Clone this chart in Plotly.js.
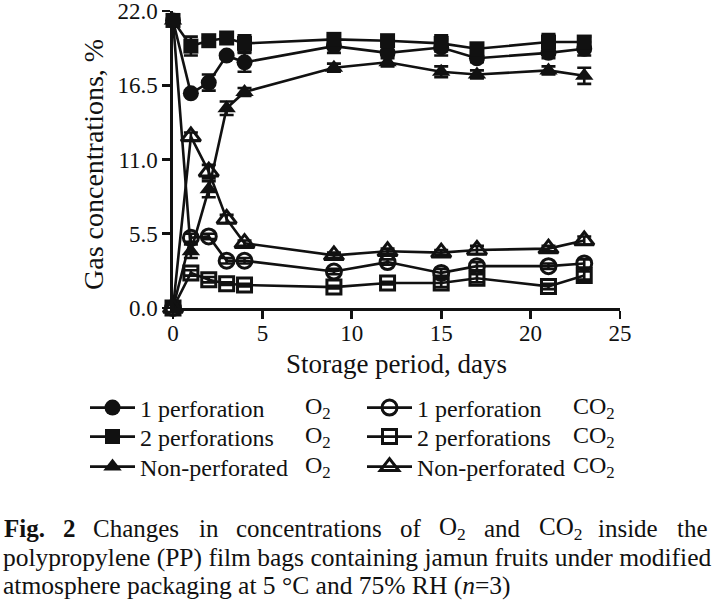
<!DOCTYPE html>
<html>
<head>
<meta charset="utf-8">
<script src="https://cdn.plot.ly/plotly-3.0.1.min.js"></script>
<style>
  html, body { margin: 0; padding: 0; background: #fff; }
  #chart { width: 714px; height: 603px; }
</style>
</head>
<body>
<div id="chart"></div>
<script>
// Storage period (days) and mean gas concentrations (%), n=3
const DAYS = [0, 1, 2, 3, 4, 9, 12, 15, 17, 21, 23];

const O2_ONE_PERF = [21.3, 15.9, 16.7, 18.7, 18.2, 19.4, 18.9, 19.3, 18.5, 18.9, 19.2];
const O2_TWO_PERF = [21.3, 19.4, 19.8, 20.0, 19.6, 19.9, 19.8, 19.6, 19.2, 19.7, 19.7];
const O2_NON_PERF = [21.3, 4.2, 8.8, 14.8, 16.0, 17.8, 18.2, 17.5, 17.3, 17.6, 17.2];
const CO2_ONE_PERF = [0.0, 5.2, 5.3, 3.5, 3.5, 2.7, 3.4, 2.6, 3.1, 3.1, 3.3];
const CO2_TWO_PERF = [0.0, 2.6, 2.1, 1.8, 1.7, 1.55, 1.85, 1.85, 2.2, 1.6, 2.4];
const CO2_NON_PERF = [0.0, 12.7, 10.1, 6.6, 4.8, 3.9, 4.2, 4.1, 4.3, 4.4, 5.0];

// ± SE
const O2_ONE_PERF_SE = [0.3, 0.2, 0.6, 0.2, 0.7, 0.5, 0.2, 0.6, 0.3, 0.4, 0.5];
const O2_TWO_PERF_SE = [0.3, 0.7, 0.2, 0.2, 0.6, 0.3, 0.2, 0.6, 0.2, 0.6, 0.4];
const O2_NON_PERF_SE = [0.3, 0.5, 0.6, 0.5, 0.3, 0.3, 0.3, 0.4, 0.3, 0.3, 0.6];
const CO2_ONE_PERF_SE = [0.1, 0.3, 0.2, 0.2, 0.2, 0.2, 0.2, 0.3, 0.3, 0.2, 0.3];
const CO2_TWO_PERF_SE = [0.1, 0.2, 0.2, 0.1, 0.1, 0.1, 0.1, 0.3, 0.3, 0.2, 0.3];
const CO2_NON_PERF_SE = [0.1, 0.3, 0.5, 0.3, 0.2, 0.2, 0.2, 0.2, 0.3, 0.2, 0.3];

const Y_TICKS = [0, 5.5, 11, 16.5, 22];
const X_TICKS = [0, 5, 10, 15, 20, 25];

const SERIES_NAMES = ["1 perforation", "2 perforations", "Non-perforated"];
const GAS_LABELS = ["O<sub>2</sub>", "CO<sub>2</sub>"];
const Y_TITLE = "Gas concentrations, %";
const X_TITLE = "Storage period, days";

const CAPTION_LINE1 = ["<b>Fig.</b>", "<b>2</b>", "Changes", "in", "concentrations", "of",
  "O<sub>2</sub>", "and", "CO<sub>2</sub>", "inside", "the"];
const CAPTION_LINE2 = "polypropylene (PP) film bags containing jamun fruits under modified";
const CAPTION_LINE3 = "atmosphere packaging at 5 °C and 75% RH (<i>n</i>=3)";

// ---- layout geometry (pixels in a 714x603 canvas) ----
const W = 714, H = 603;
const M = { l: 173, r: 94, t: 11, b: 295, autoexpand: false };
const plotW = W - M.l - M.r;
const plotH = H - M.t - M.b;
const px = (x) => (x - M.l) / plotW;
const py = (y) => (H - M.b - y) / plotH;

const FONT = "Liberation Serif, Times New Roman, serif";
const INK = "#111";

// legend rows and columns (one single-entry legend per slot)
const LEGEND_ROWS = [408, 437, 467];
const LEGEND_COLS = [85, 362];
const GAS_LABEL_X = [303, 571];

const legendId = (col, row) => {
  const n = col * 3 + row + 1;
  return n === 1 ? "legend" : "legend" + n;
};

function series(y, se, name, symbol, size, col, row) {
  return {
    x: DAYS,
    y: y,
    type: "scatter",
    mode: "lines+markers",
    name: name,
    legend: legendId(col, row),
    cliponaxis: false,
    line: { color: INK, width: 2.6 },
    marker: {
      symbol: symbol,
      size: size,
      color: INK,
      line: { color: INK, width: symbol.endsWith("open") ? 3 : 0 },
    },
    error_y: { type: "data", array: se, visible: true, color: INK, thickness: 2.6, width: 7 },
  };
}

const traces = [
  series(CO2_TWO_PERF, CO2_TWO_PERF_SE, SERIES_NAMES[1], "square-open", 14, 1, 1),
  series(CO2_ONE_PERF, CO2_ONE_PERF_SE, SERIES_NAMES[0], "circle-open", 15, 1, 0),
  series(CO2_NON_PERF, CO2_NON_PERF_SE, SERIES_NAMES[2], "triangle-up-open", 17, 1, 2),
  series(O2_NON_PERF, O2_NON_PERF_SE, SERIES_NAMES[2], "triangle-up", 16, 0, 2),
  series(O2_ONE_PERF, O2_ONE_PERF_SE, SERIES_NAMES[0], "circle", 16, 0, 0),
  series(O2_TWO_PERF, O2_TWO_PERF_SE, SERIES_NAMES[1], "square", 15, 0, 1),
];

const axisCommon = {
  showline: true,
  linecolor: INK,
  linewidth: 2.6,
  ticks: "outside",
  ticklen: 8,
  tickwidth: 2.6,
  tickcolor: INK,
  showgrid: false,
  zeroline: false,
  ticklabeloverflow: "allow",
  tickfont: { family: FONT, size: 23, color: INK },
};

const annotations = [];

// y-axis title as a rotated annotation (axis title drifts with autoexpand off)
annotations.push({ xref: "paper", yref: "paper", x: px(93), y: py(165), xanchor: "center", yanchor: "middle",
  textangle: -90, text: Y_TITLE, showarrow: false, font: { family: FONT, size: 28, color: INK } });

// gas labels next to the legend entries
LEGEND_ROWS.forEach((y) => {
  GAS_LABELS.forEach((g, c) => {
    annotations.push({ xref: "paper", yref: "paper", x: px(GAS_LABEL_X[c]), y: py(y), xanchor: "left", yanchor: "middle",
      text: g, showarrow: false, font: { family: FONT, size: 24, color: INK } });
  });
});

// caption, first line justified word by word
const line1X = [2, 61, 91, 197, 234, 398, 437, 482, 537, 596, 675];
CAPTION_LINE1.forEach((w, i) => {
  annotations.push({ xref: "paper", yref: "paper", x: px(line1X[i]), y: py(528), xanchor: "left", yanchor: "middle",
    text: w, showarrow: false, font: { family: FONT, size: 25, color: INK } });
});
[[CAPTION_LINE2, 557], [CAPTION_LINE3, 585]].forEach(([t, y]) => {
  annotations.push({ xref: "paper", yref: "paper", x: px(1), y: py(y), xanchor: "left", yanchor: "middle",
    text: t, showarrow: false, font: { family: FONT, size: 25.5, color: INK } });
});

const layout = {
  width: W,
  height: H,
  margin: M,
  paper_bgcolor: "#fff",
  plot_bgcolor: "#fff",
  font: { family: FONT, color: INK },
  showlegend: true,
  xaxis: Object.assign({}, axisCommon, {
    range: [0, 25],
    tickvals: X_TICKS,
    ticklabelstandoff: -5,
    title: { text: X_TITLE, font: { family: FONT, size: 27, color: INK }, standoff: 9 },
  }),
  yaxis: Object.assign({}, axisCommon, {
    range: [0, 22],
    tickvals: Y_TICKS,
    tickformat: ".1f",
  }),
  annotations: annotations,
};

for (let c = 0; c < 2; c++) {
  for (let r = 0; r < 3; r++) {
    layout[legendId(c, r)] = {
      xref: "container",
      yref: "container",
      x: LEGEND_COLS[c] / W,
      y: 1 - LEGEND_ROWS[r] / H,
      xanchor: "left",
      yanchor: "middle",
      itemwidth: 45,
      font: { family: FONT, size: 24, color: INK },
      bgcolor: "rgba(0,0,0,0)",
    };
  }
}

Plotly.newPlot("chart", traces, layout, { staticPlot: true, displayModeBar: false });
</script>
</body>
</html>
